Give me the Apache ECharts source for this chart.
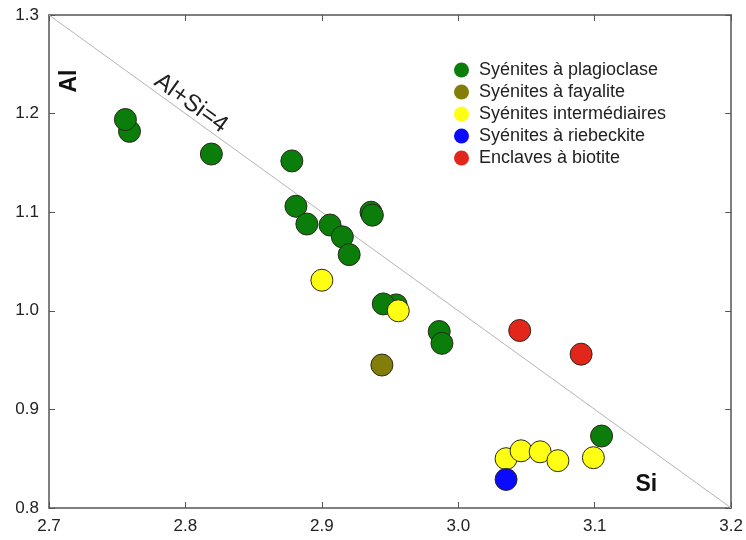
<!DOCTYPE html>
<html>
<head>
<meta charset="utf-8">
<script src="https://cdn.jsdelivr.net/npm/echarts@6/dist/echarts.min.js"></script>
<style>
  html, body { margin: 0; padding: 0; background: #fff; }
  #chart { width: 746px; height: 540px; }
</style>
</head>
<body>
<div id="chart"></div>
<script>
// Si vs Al (apfu) in the syenite samples
const xTicks = [2.7, 2.8, 2.9, 3.0, 3.1, 3.2];
const yTicks = [0.8, 0.9, 1.0, 1.1, 1.2, 1.3];

const groupNames = [
  'Syénites à plagioclase',
  'Syénites à fayalite',
  'Syénites intermédiaires',
  'Syénites à riebeckite',
  'Enclaves à biotite'
];
const groupColors = ['#0a7d0a', '#837d0a', '#ffff14', '#0a0aff', '#e3261c'];

const plagioclase = [
  [2.759, 1.182], [2.756, 1.194], [2.819, 1.159], [2.878, 1.152],
  [2.881, 1.106], [2.889, 1.088], [2.906, 1.087], [2.915, 1.075],
  [2.920, 1.057], [2.936, 1.100], [2.937, 1.097], [2.9545, 1.006],
  [2.945, 1.007], [2.986, 0.979], [2.988, 0.967], [3.105, 0.873]
];
const fayalite = [[2.944, 0.945]];
const intermediaires = [
  [2.900, 1.031], [2.956, 1.000], [3.035, 0.850], [3.046, 0.858],
  [3.060, 0.857], [3.073, 0.848], [3.099, 0.851]
];
const riebeckite = [[3.035, 0.829]];
const enclaves = [[3.045, 0.980], [3.090, 0.956]];

const groups = [plagioclase, fayalite, intermediaires, riebeckite, enclaves];

// reference line Al + Si = 4
const sumLine = [[2.7, 1.3], [3.2, 0.8]];

const FONT = '"Liberation Sans", Arial, sans-serif';

const chart = echarts.init(document.getElementById('chart'), null, { renderer: 'canvas' });

const axisCommon = {
  type: 'value',
  interval: 0.1,
  axisLine: { show: true, lineStyle: { color: '#555', width: 1.5 } },
  axisTick: { show: true, inside: true, length: 6, lineStyle: { color: '#555', width: 1 } },
  splitLine: { show: false }
};

const scatterSeries = groups.map((data, i) => ({
  name: groupNames[i],
  type: 'scatter',
  data: data,
  symbol: 'circle',
  symbolSize: 22,
  itemStyle: { color: groupColors[i], borderColor: '#2a2a1a', borderWidth: 1, opacity: 1 },
  emphasis: { disabled: true },
  z: 3
}));

chart.setOption({
  animation: false,
  backgroundColor: '#fff',
  grid: { left: 49, right: 14, top: 15, bottom: 32, containLabel: false },
  legend: {
    orient: 'vertical',
    left: 449,
    top: 54,
    itemWidth: 15,
    itemHeight: 15,
    itemGap: 0,
    icon: 'circle',
    data: groupNames,
    itemStyle: { borderWidth: 0 },
    textStyle: { fontFamily: FONT, fontSize: 18, lineHeight: 22, color: '#222', padding: [0, 0, 0, 5] }
  },
  xAxis: [
    Object.assign({}, axisCommon, {
      min: xTicks[0], max: xTicks[xTicks.length - 1],
      axisLabel: {
        margin: 10, fontFamily: FONT, fontSize: 17, color: '#222',
        formatter: v => v.toFixed(1)
      }
    }),
    Object.assign({}, axisCommon, {
      position: 'top',
      min: xTicks[0], max: xTicks[xTicks.length - 1],
      axisLabel: { show: false }
    })
  ],
  yAxis: [
    Object.assign({}, axisCommon, {
      min: yTicks[0], max: yTicks[yTicks.length - 1],
      axisLabel: {
        margin: 10, fontFamily: FONT, fontSize: 17, color: '#222',
        formatter: v => v.toFixed(1)
      }
    }),
    Object.assign({}, axisCommon, {
      position: 'right',
      min: yTicks[0], max: yTicks[yTicks.length - 1],
      axisLabel: { show: false }
    })
  ],
  series: [
    {
      name: 'Al+Si=4',
      type: 'line',
      data: sumLine,
      symbol: 'none',
      silent: true,
      lineStyle: { color: '#b4b4b4', width: 1 },
      z: 1
    }
  ].concat(scatterSeries)
});

// annotations placed in data coordinates
const toPx = p => chart.convertToPixel({ gridIndex: 0 }, p);
const lblPos = toPx([2.8040, 1.2105]);
const alPos = toPx([2.7155, 1.233]);
const siPos = toPx([3.1378, 0.8233]);
const p0 = toPx(sumLine[0]);
const p1 = toPx(sumLine[1]);
const angle = Math.atan2(p1[1] - p0[1], p1[0] - p0[0]);

chart.setOption({
  graphic: [
    {
      type: 'text', x: lblPos[0], y: lblPos[1], rotation: -angle,
      style: {
        text: 'Al+Si=4', fontFamily: FONT, fontSize: 24, fill: '#222',
        align: 'center', verticalAlign: 'middle'
      }
    },
    {
      type: 'text', x: alPos[0], y: alPos[1], rotation: Math.PI / 2,
      style: {
        text: 'Al', fontFamily: FONT, fontSize: 23, fontWeight: 'bold', fill: '#111',
        align: 'center', verticalAlign: 'middle'
      }
    },
    {
      type: 'text', x: siPos[0], y: siPos[1],
      style: {
        text: 'Si', fontFamily: FONT, fontSize: 23, fontWeight: 'bold', fill: '#111',
        align: 'center', verticalAlign: 'middle'
      }
    }
  ]
});
</script>
</body>
</html>
